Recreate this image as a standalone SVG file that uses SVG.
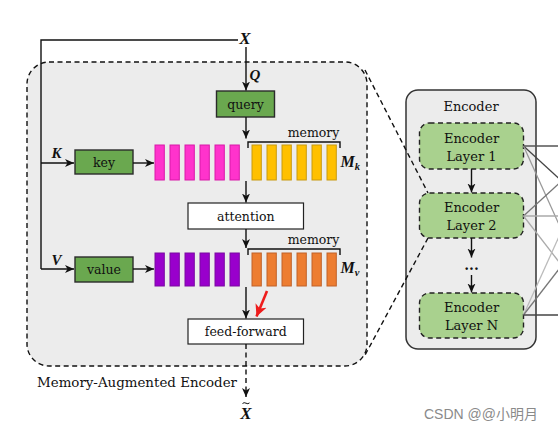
<svg xmlns="http://www.w3.org/2000/svg" width="558" height="433" viewBox="0 0 558 433">
<style>
text{font-family:"DejaVu Serif","Liberation Serif",serif;fill:#111}
.t{font-size:12.5px;text-anchor:middle}
.e{font-size:13px;text-anchor:middle}
.m{font-family:"Liberation Serif","DejaVu Serif",serif;font-style:italic;font-weight:bold}
.ln{stroke:#111;stroke-width:1.4;fill:none}
.dash{stroke:#111;stroke-width:1.4;fill:none;stroke-dasharray:5,3.5}
.green{fill:#6aa84f;stroke:#2b2b2b;stroke-width:1.4}
.white{fill:#fff;stroke:#222;stroke-width:1.2}
.pink{fill:#ff33cc;stroke:#d81aa8;stroke-width:1}
.yel{fill:#ffc000;stroke:#c89a10;stroke-width:1}
.pur{fill:#9900cc;stroke:#7a0aa0;stroke-width:1}
.ora{fill:#ed7d31;stroke:#c0622a;stroke-width:1}
.layer{fill:#a9d18e;stroke:#222;stroke-width:1.4;stroke-dasharray:5,3.5}
</style>
<defs>
<marker id="ah" markerUnits="userSpaceOnUse" markerWidth="10" markerHeight="10" viewBox="0 0 10 10" refX="9" refY="5" orient="auto">
<path d="M0,1 L9,5 L0,9 L2.5,5 z" fill="#111"/>
</marker>
<marker id="ahr" markerUnits="userSpaceOnUse" markerWidth="13" markerHeight="13" viewBox="0 0 12 12" refX="11" refY="6" orient="auto">
<path d="M0,0.5 L11,6 L0,11.5 L3,6 z" fill="#ee1c1c"/>
</marker>
</defs>

<g id="memory-encoder">
<rect x="27" y="62" width="340" height="304" rx="22" ry="22" fill="#ececec" stroke="#111" stroke-width="1.4" stroke-dasharray="5,3.5"/>
<text x="37" y="387" style="font-size:13.4px">Memory-Augmented Encoder</text>
</g>

<g id="encoder">
<rect x="406" y="90" width="130" height="259" rx="12" ry="12" fill="#ececec" stroke="#333" stroke-width="1.5"/>
<text class="e" x="471" y="111">Encoder</text>
</g>

<g id="layer1">
<rect class="layer" x="419.5" y="123" width="104" height="46" rx="10" ry="10"/>
<text class="e" x="471.5" y="143">Encoder</text>
<text class="e" x="471.5" y="161">Layer 1</text>
</g>
<g id="layer2">
<rect class="layer" x="419.5" y="193" width="104" height="45" rx="10" ry="10"/>
<text class="e" x="471.5" y="212">Encoder</text>
<text class="e" x="471.5" y="230">Layer 2</text>
</g>
<g id="layerN">
<rect class="layer" x="419.5" y="293" width="104" height="45" rx="10" ry="10"/>
<text class="e" x="471.5" y="312">Encoder</text>
<text class="e" x="471.5" y="330">Layer N</text>
</g>
<g id="dots"><text x="471.5" y="270" style="font-size:14px;font-weight:bold;text-anchor:middle">...</text></g>

<g id="query"><rect class="green" x="216.5" y="91" width="58" height="26"/><text class="t" x="245.5" y="108.5">query</text></g>
<g id="key"><rect class="green" x="75" y="150" width="58" height="24"/><text class="t" x="104" y="166.5">key</text></g>
<g id="value"><rect class="green" x="75" y="257" width="58" height="25"/><text class="t" x="104" y="273.5">value</text></g>
<g id="attention"><rect class="white" x="188" y="203" width="115.5" height="26"/><text class="t" x="245.75" y="220.5">attention</text></g>
<g id="feedforward"><rect class="white" x="188" y="319" width="115.5" height="25"/><text class="t" x="245.75" y="336">feed-forward</text></g>

<g id="keys">
<rect class="pink" x="155" y="145" width="9.3" height="35"/>
<rect class="pink" x="170" y="145" width="9.3" height="35"/>
<rect class="pink" x="185" y="145" width="9.3" height="35"/>
<rect class="pink" x="200" y="145" width="9.3" height="35"/>
<rect class="pink" x="215" y="145" width="9.3" height="35"/>
<rect class="pink" x="230" y="145" width="9.3" height="35"/>
</g>
<g id="memory-k">
<rect class="yel" x="252" y="145" width="9.3" height="35"/>
<rect class="yel" x="267" y="145" width="9.3" height="35"/>
<rect class="yel" x="282" y="145" width="9.3" height="35"/>
<rect class="yel" x="297" y="145" width="9.3" height="35"/>
<rect class="yel" x="312" y="145" width="9.3" height="35"/>
<rect class="yel" x="327" y="145" width="9.3" height="35"/>
<path class="ln" d="M248,148 V142 H340 V148" stroke-width="1.2"/>
<text class="t" x="313.5" y="137">memory</text>
<text class="m" x="340.5" y="167" style="font-size:16px">M<tspan style="font-size:10.5px" dy="2.5">k</tspan></text>
</g>
<g id="values">
<rect class="pur" x="155" y="253" width="9.3" height="33"/>
<rect class="pur" x="170" y="253" width="9.3" height="33"/>
<rect class="pur" x="185" y="253" width="9.3" height="33"/>
<rect class="pur" x="200" y="253" width="9.3" height="33"/>
<rect class="pur" x="215" y="253" width="9.3" height="33"/>
<rect class="pur" x="230" y="253" width="9.3" height="33"/>
</g>
<g id="memory-v">
<rect class="ora" x="252" y="253" width="9.3" height="33"/>
<rect class="ora" x="267" y="253" width="9.3" height="33"/>
<rect class="ora" x="282" y="253" width="9.3" height="33"/>
<rect class="ora" x="297" y="253" width="9.3" height="33"/>
<rect class="ora" x="312" y="253" width="9.3" height="33"/>
<rect class="ora" x="327" y="253" width="9.3" height="33"/>
<path class="ln" d="M248,255 V249 H340 V255" stroke-width="1.2"/>
<text class="t" x="313.5" y="244">memory</text>
<text class="m" x="340.5" y="273" style="font-size:16px">M<tspan style="font-size:10.5px" dy="2.5">v</tspan></text>
</g>

<g id="labels">
<text class="m" x="245" y="43.5" style="font-size:17px;text-anchor:middle">X</text>
<text class="m" x="255" y="80" style="font-size:15px;text-anchor:middle">Q</text>
<text class="m" x="56.5" y="157.5" style="font-size:15px;text-anchor:middle">K</text>
<text class="m" x="56.5" y="264.5" style="font-size:15px;text-anchor:middle">V</text>
<text class="m" x="246" y="418.5" style="font-size:17px;text-anchor:middle">X</text>
<path d="M242.5,403.5 q1.5,-1.5 3.5,-0.3 q2,1.2 3.5,-0.3" stroke="#111" stroke-width="1" fill="none"/>
</g>

<g id="connectors">
<path class="ln" d="M238,40 H41 V269"/>
<path class="ln" d="M41,163 H74" marker-end="url(#ah)"/>
<path class="ln" d="M41,269 H74" marker-end="url(#ah)"/>
<path class="ln" d="M133,163 H154" marker-end="url(#ah)"/>
<path class="ln" d="M133,269 H154" marker-end="url(#ah)"/>
<path class="ln" d="M246,47 V90.5" marker-end="url(#ah)"/>
<path class="ln" d="M246,117 V138.5" marker-end="url(#ah)"/>
<path class="ln" d="M246,181 V202.5" marker-end="url(#ah)"/>
<path class="ln" d="M246,229 V248" marker-end="url(#ah)"/>
<path class="ln" d="M246,287 V318.5" marker-end="url(#ah)"/>
<path d="M267,291 L256.5,316.5" stroke="#ee1c1c" stroke-width="2.6" fill="none" marker-end="url(#ahr)"/>
<path class="dash" d="M246,344 V397" marker-end="url(#ah)"/>
<path class="dash" d="M365,70 L428,193"/>
<path class="dash" d="M428,238 L364,357"/>
<path class="ln" d="M471.5,169 V192.5" marker-end="url(#ah)"/>
<path class="ln" d="M471.5,238 V257.5" marker-end="url(#ah)"/>
<path class="ln" d="M471.5,275 V292.5" marker-end="url(#ah)"/>
<g stroke-width="1.3" fill="none">
<path d="M523.5,146 L600,146" stroke="#555"/>
<path d="M523.5,146 L600,216" stroke="#444"/>
<path d="M523.5,146 L600,315" stroke="#999"/>
<path d="M523.5,216 L600,146" stroke="#777"/>
<path d="M523.5,216 L600,216" stroke="#aaa"/>
<path d="M523.5,216 L600,315" stroke="#aaa"/>
<path d="M523.5,315 L600,146" stroke="#bbb"/>
<path d="M523.5,315 L600,216" stroke="#777"/>
<path d="M523.5,315 L600,315" stroke="#444"/>
</g>
</g>

<g id="watermark">
<text x="424" y="419" style="font-family:'Liberation Sans','Noto Sans CJK SC',sans-serif;font-size:14px;fill:#8a8a8a">CSDN @@小明月</text>
</g>
</svg>
